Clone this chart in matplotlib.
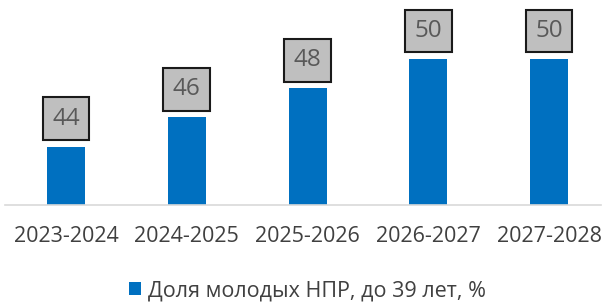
import matplotlib.pyplot as plt

plt.rcParams['font.family'] = ['Open Sans', 'DejaVu Sans']

# Data
periods = ['2023-2024', '2024-2025', '2025-2026', '2026-2027', '2027-2028']
share_young = [44, 46, 48, 50, 50]
series_name = 'Доля молодых НПР, до 39 лет, %'

fig = plt.figure(figsize=(6.03, 3.04), dpi=100)
ax = fig.add_axes([5 / 603, 99 / 304, 596 / 603, 205 / 304])

x = range(len(periods))
bars = ax.bar(x, share_young, width=0.315, color='#0070C0', label=series_name, zorder=2)

# Value labels in grey boxes above the bars
for xi, v in zip(x, share_young):
    ax.annotate(str(v), xy=(xi, v), xytext=(0, 28), textcoords='offset pixels',
                ha='center', va='center', fontsize=17.5, color='#595959',
                bbox=dict(boxstyle='square,pad=0.39', fc='#BFBFBF', ec='#1A1A1A', lw=1.5))

ax.set_xlim(-0.505, 4.43)
ax.set_ylim(40, 54.04)
ax.set_xticks(list(x))
ax.set_xticklabels(periods, fontsize=15.5, color='#404040')
ax.tick_params(axis='x', length=0, pad=15)
ax.set_yticks([])
for side in ['left', 'right', 'top']:
    ax.spines[side].set_visible(False)
ax.spines['bottom'].set_color('#D9D9D9')
ax.spines['bottom'].set_linewidth(1.2)

fig.legend(handles=[bars], labels=[series_name], loc='center',
           bbox_to_anchor=(0.51, 1 - 291 / 304), frameon=False, fontsize=15.5,
           handlelength=0.55, handleheight=0.55, handletextpad=0.35, labelcolor='#404040')

fig.savefig('out.png', dpi=100)
